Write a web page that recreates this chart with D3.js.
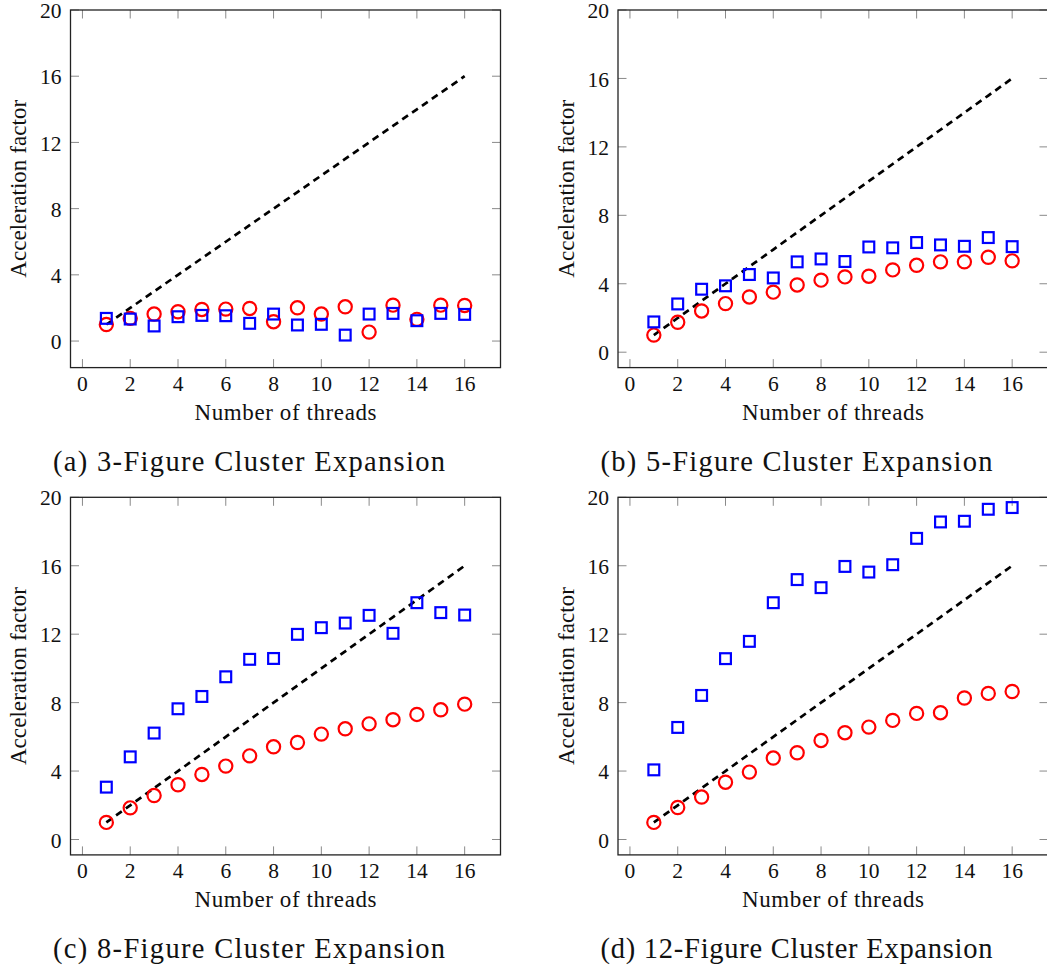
<!DOCTYPE html>
<html lang="en">
<head>
  <meta charset="UTF-8" />
  <title>Acceleration factor vs number of threads</title>
  <script src="https://d3js.org/d3.v7.min.js"></script>
  <style>
    body { margin: 0; background: #fff; }
    svg { display: block; }
    text { font-family: "Liberation Serif", "Times New Roman", serif; fill: #111; }
    .tick-label { font-size: 21.5px; }
    .axis-title { font-size: 23px; }
    .caption { font-size: 28.5px; }
  </style>
</head>
<body>
<svg width="1047" height="970"></svg>
<script>
  // --- data ---
  const threads = [1, 2, 3, 4, 5, 6, 7, 8, 9, 10, 11, 12, 13, 14, 15, 16];
  const idealSpeedup = [1, 2, 3, 4, 5, 6, 7, 8, 9, 10, 11, 12, 13, 14, 15, 16];
  const xTicks = [0, 2, 4, 6, 8, 10, 12, 14, 16];
  const yTicks = [0, 4, 8, 12, 16, 20];
  const yMaxValue = 20;

  const captions = [
    "(a) 3-Figure Cluster Expansion",
    "(b) 5-Figure Cluster Expansion",
    "(c) 8-Figure Cluster Expansion",
    "(d) 12-Figure Cluster Expansion"
  ];

  // red circles
  const circlesA = [1.0, 1.37, 1.63, 1.77, 1.91, 1.93, 1.97, 1.17, 2.01, 1.63, 2.07, 0.54, 2.17, 1.31, 2.17, 2.15];
  const circlesB = [1.0, 1.75, 2.41, 2.84, 3.23, 3.51, 3.93, 4.21, 4.40, 4.44, 4.81, 5.08, 5.28, 5.28, 5.55, 5.34];
  const circlesC = [1.0, 1.85, 2.57, 3.20, 3.80, 4.29, 4.89, 5.42, 5.67, 6.16, 6.47, 6.76, 7.00, 7.31, 7.58, 7.91];
  const circlesD = [1.0, 1.87, 2.48, 3.35, 3.94, 4.76, 5.07, 5.79, 6.24, 6.57, 6.96, 7.37, 7.41, 8.27, 8.54, 8.65];

  // blue squares
  const squaresA = [1.37, 1.33, 0.91, 1.47, 1.55, 1.53, 1.07, 1.63, 0.97, 1.01, 0.36, 1.63, 1.67, 1.23, 1.67, 1.61];
  const squaresB = [1.77, 2.82, 3.68, 3.88, 4.54, 4.34, 5.28, 5.45, 5.30, 6.15, 6.10, 6.41, 6.27, 6.19, 6.70, 6.17];
  const squaresC = [3.06, 4.83, 6.22, 7.64, 8.36, 9.51, 10.53, 10.58, 11.99, 12.38, 12.65, 13.10, 12.05, 13.84, 13.26, 13.12];
  const squaresD = [4.07, 6.55, 8.42, 10.57, 11.58, 13.84, 15.19, 14.72, 15.96, 15.63, 16.06, 17.60, 18.56, 18.60, 19.30, 19.40];

  const panels = [
    { circles: circlesA, squares: squaresA, caption: captions[0], left: 70.5, top: 10 },
    { circles: circlesB, squares: squaresB, caption: captions[1], left: 618, top: 10 },
    { circles: circlesC, squares: squaresC, caption: captions[2], left: 70.5, top: 497.3 },
    { circles: circlesD, squares: squaresD, caption: captions[3], left: 618, top: 497.3 }
  ];

  const svg = d3.select("svg");
  const width = 430, height = 357.6;

  panels.forEach(p => {
    const g = svg.append("g").attr("transform", `translate(${p.left},${p.top})`);

    // pgfplots-like enlarged limits (10% of range)
    const xLo = d3.min(threads), xHi = d3.max(threads);
    const x = d3.scaleLinear()
      .domain([xLo - 0.1 * (xHi - xLo), xHi + 0.1 * (xHi - xLo)])
      .range([0, width]);
    const dMin = d3.min([...p.circles, ...p.squares, ...idealSpeedup]);
    const y = d3.scaleLinear()
      .domain([dMin - 0.1 * (yMaxValue - dMin), yMaxValue])
      .range([height, 0]);

    // ticks (inside, all four sides)
    const tickLen = 8.5;
    const ticks = g.append("g").attr("stroke", "#8a8a8a").attr("stroke-width", 1);
    xTicks.forEach(t => {
      ticks.append("line").attr("x1", x(t)).attr("x2", x(t)).attr("y1", height).attr("y2", height - tickLen);
      ticks.append("line").attr("x1", x(t)).attr("x2", x(t)).attr("y1", 0).attr("y2", tickLen);
    });
    yTicks.forEach(t => {
      ticks.append("line").attr("x1", 0).attr("x2", tickLen).attr("y1", y(t)).attr("y2", y(t));
      ticks.append("line").attr("x1", width).attr("x2", width - tickLen).attr("y1", y(t)).attr("y2", y(t));
    });

    // tick labels
    g.selectAll(".xl").data(xTicks).enter().append("text")
      .attr("class", "tick-label")
      .attr("x", d => x(d)).attr("y", height + 23)
      .attr("text-anchor", "middle")
      .text(d => d);
    g.selectAll(".yl").data(yTicks).enter().append("text")
      .attr("class", "tick-label")
      .attr("x", -9).attr("y", d => y(d)).attr("dy", "0.38em")
      .attr("text-anchor", "end")
      .text(d => d);

    // frame
    g.append("rect")
      .attr("width", width).attr("height", height)
      .attr("fill", "none").attr("stroke", "#222").attr("stroke-width", 1.3);

    // ideal speedup
    g.append("path")
      .datum(threads.map((t, i) => [t, idealSpeedup[i]]))
      .attr("fill", "none").attr("stroke", "#000")
      .attr("stroke-width", 2.7).attr("stroke-dasharray", "7,5")
      .attr("d", d3.line().x(d => x(d[0])).y(d => y(d[1])));

    // red circles
    g.selectAll(".c").data(p.circles).enter().append("circle")
      .attr("cx", (d, i) => x(threads[i])).attr("cy", d => y(d))
      .attr("r", 6.6)
      .attr("fill", "none").attr("stroke", "#ff0000").attr("stroke-width", 2.2);

    // blue squares
    const s = 10.8;
    g.selectAll(".s").data(p.squares).enter().append("rect")
      .attr("x", (d, i) => x(threads[i]) - s / 2).attr("y", d => y(d) - s / 2)
      .attr("width", s).attr("height", s)
      .attr("fill", "none").attr("stroke", "#0000ff").attr("stroke-width", 2.2);

    // axis titles
    g.append("text")
      .attr("class", "axis-title")
      .attr("x", width / 2).attr("y", height + 52.5)
      .attr("text-anchor", "middle")
      .attr("textLength", 182).attr("lengthAdjust", "spacing")
      .text("Number of threads");
    g.append("text")
      .attr("class", "axis-title")
      .attr("transform", `translate(-44.5,${height / 2}) rotate(-90)`)
      .attr("text-anchor", "middle")
      .attr("textLength", 178).attr("lengthAdjust", "spacing")
      .text("Acceleration factor");

    // caption
    g.append("text")
      .attr("class", "caption")
      .attr("x", width / 2 - 36.5).attr("y", height + 103)
      .attr("text-anchor", "middle")
      .attr("textLength", 392).attr("lengthAdjust", "spacing")
      .text(p.caption);
  });
</script>
</body>
</html>
